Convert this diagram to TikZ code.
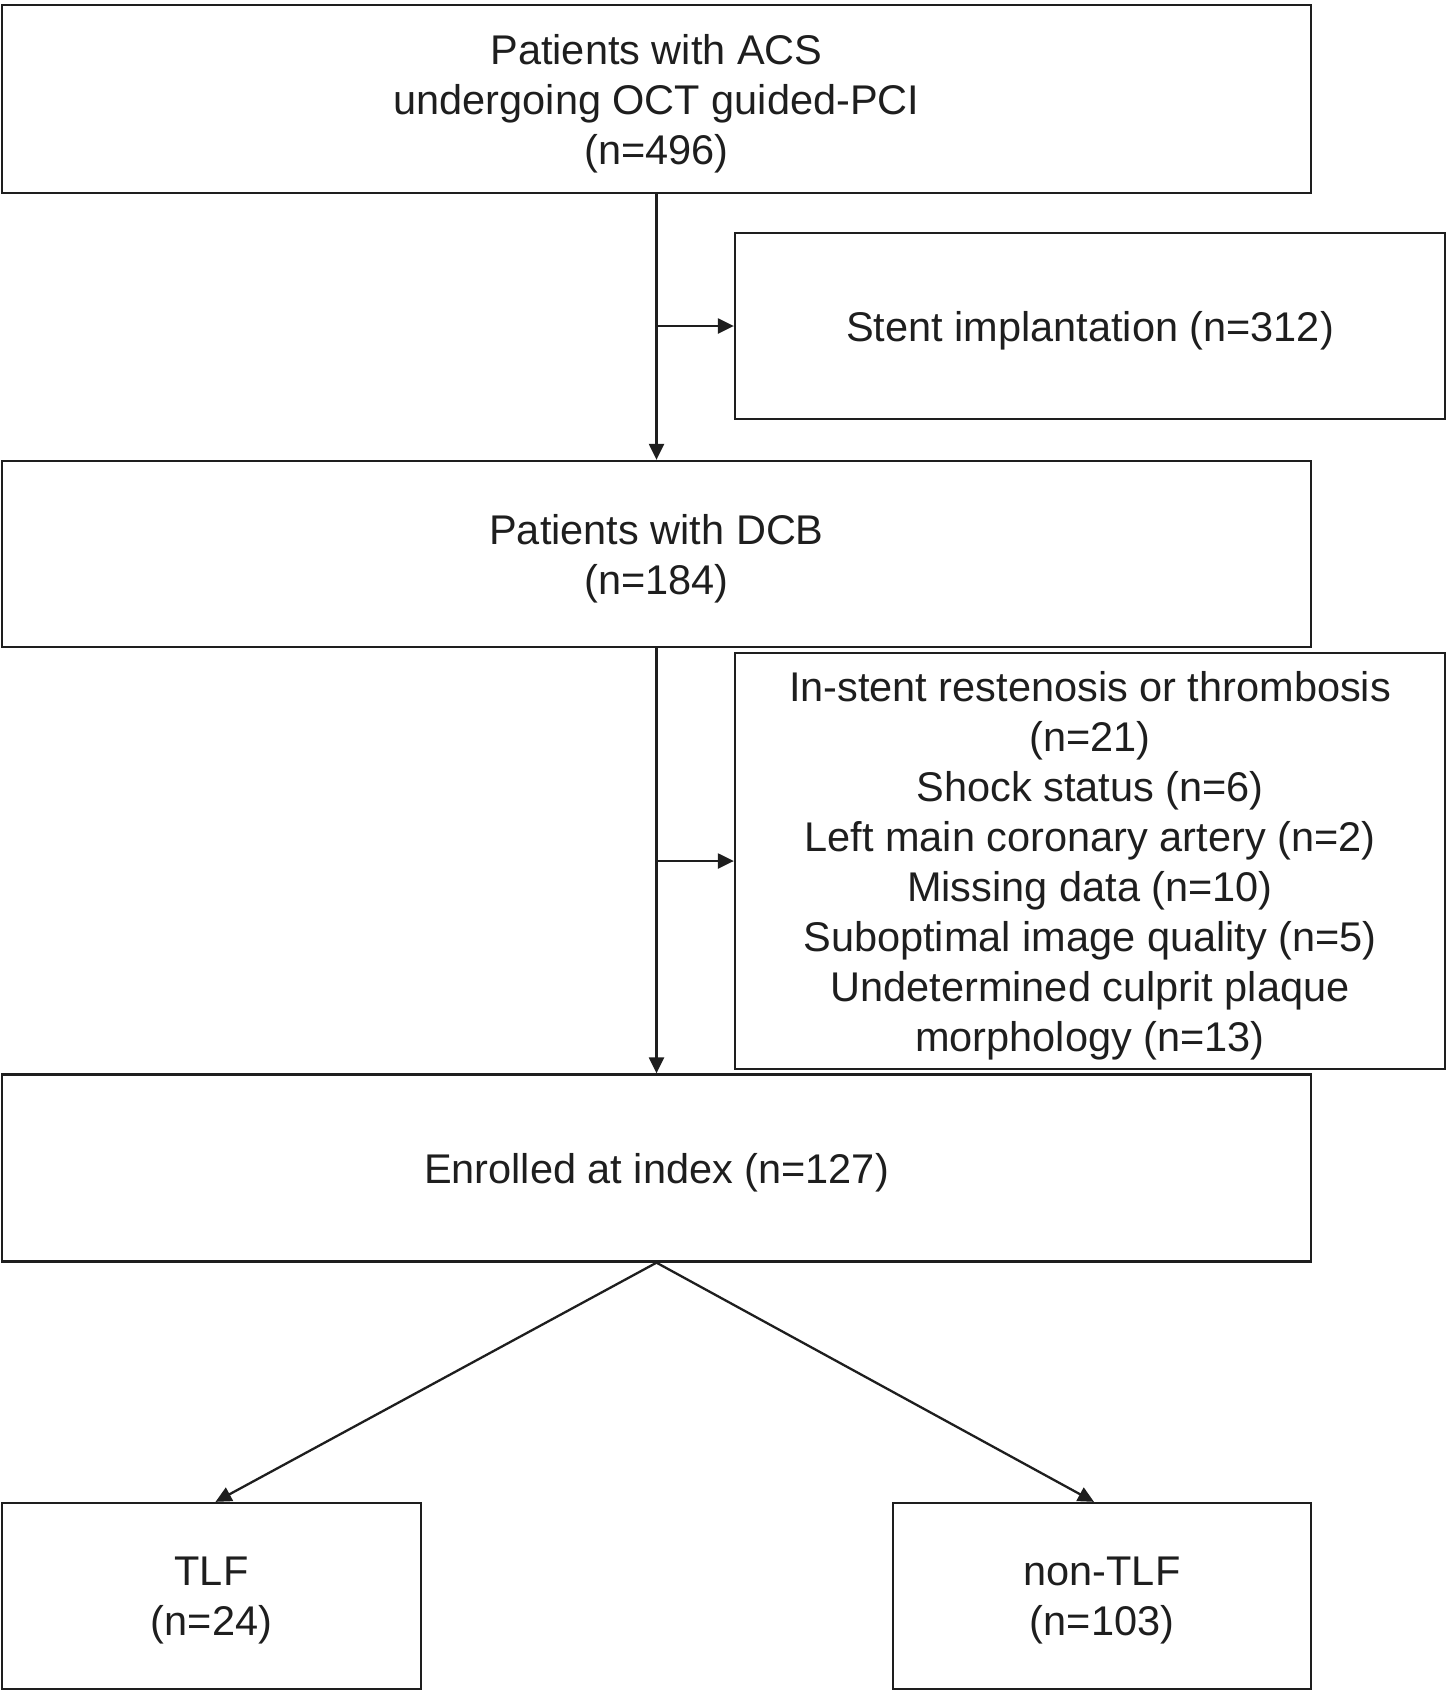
\documentclass[tikz,border=0pt]{standalone}
\usepackage{fontspec}
\setmainfont{Liberation Sans}
\usepackage{xcolor}
\usetikzlibrary{positioning,arrows.meta,calc}
\definecolor{ink}{RGB}{30,30,30}

\begin{document}
\begin{tikzpicture}[x=1pt,y=-1pt,
  box/.style={draw=ink,line width=2.3pt,align=center,inner sep=0pt,text=ink,
    font=\fontsize{41.5}{50}\selectfont,text depth=0pt},
  flow/.style={draw=ink,line width=2.3pt,-{Triangle[length=16pt,width=15pt]}}]
\useasboundingbox (0,0) rectangle (1446,1691);
% main column
\node[box,minimum width=1309,minimum height=188] (ocp) at (656.5,99)
  {Patients with ACS\\undergoing OCT guided-PCI\\(n=496)};
\node[box,minimum width=1309,minimum height=186] (dcb) at (656.5,554)
  {Patients with DCB\\(n=184)};
\node[box,minimum width=1309,minimum height=187] (enrol) at (656.5,1168)
  {Enrolled at index (n=127)};
% exclusions
\node[box,minimum width=710,minimum height=186] (stent) at (1090,326)
  {Stent implantation (n=312)};
\node[box,minimum width=710,minimum height=416] (excl) at (1090,861)
  {In-stent restenosis or thrombosis\\(n=21)\\Shock status (n=6)\\Left main coronary artery (n=2)\\Missing data (n=10)\\Suboptimal image quality (n=5)\\Undetermined culprit plaque\\morphology (n=13)};
% outcome groups
\node[box,minimum width=419,minimum height=186] (tlf) at (211.5,1596)
  {TLF\\(n=24)};
\node[box,minimum width=418,minimum height=186] (ntlf) at (1102,1596)
  {non-TLF\\(n=103)};
% arrows
\draw[flow] (ocp.south) -- (dcb.north);
\draw[flow] (ocp.south |- stent.west) -- (stent.west);
\draw[flow] (dcb.south) -- (enrol.north);
\draw[flow] (dcb.south |- excl.west) -- (excl.west);
\draw[flow] (enrol.south) -- ($(tlf.north)+(4,0)$);
\draw[flow] (enrol.south) -- ($(ntlf.north)+(-8,0)$);
\end{tikzpicture}
\end{document}
